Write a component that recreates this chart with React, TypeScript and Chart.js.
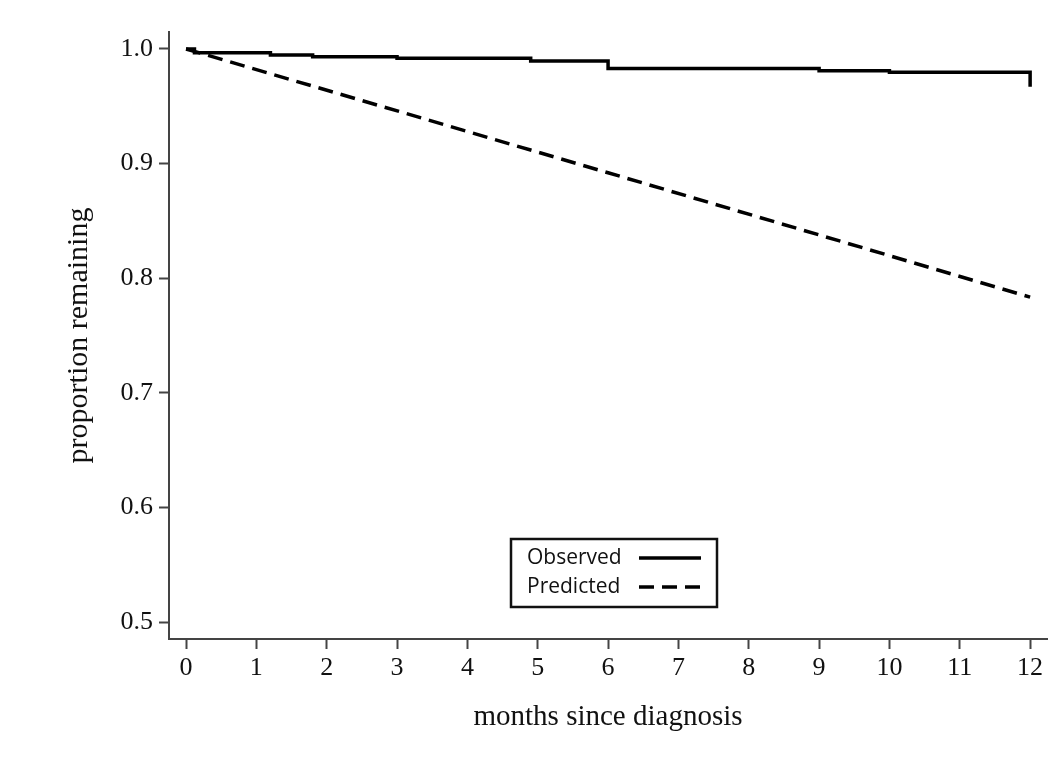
import React, { useEffect, useRef } from "react";
import { Chart, registerables } from "chart.js";

Chart.register(...registerables);

// ---- data ----
const observedMonths = [0, 0.12, 1.2, 1.8, 3.0, 4.9, 6.0, 9.0, 10.0, 12.0];
const observedValues = [1.0, 0.9968, 0.9948, 0.9933, 0.992, 0.9895, 0.983, 0.981, 0.9797, 0.967];
const predictedMonths = [0, 6, 12];
const predictedValues = [1.0, 0.892, 0.7835];
const xTicks = [0, 1, 2, 3, 4, 5, 6, 7, 8, 9, 10, 11, 12];
const yTicks = [0.5, 0.6, 0.7, 0.8, 0.9, 1.0];
const seriesLabels = ["Observed", "Predicted"];
const xTitle = "months since diagnosis";
const yTitle = "proportion remaining";

const SERIF = "'Liberation Serif', 'Times New Roman', serif";
const AXIS = "#444";
const TEXT = "#111";

const boxLegend = {
  id: "boxLegend",
  afterDraw(chart: any, _args: any, opts: any) {
    const ctx = chart.ctx as CanvasRenderingContext2D;
    ctx.save();
    ctx.fillStyle = "#ffffff";
    ctx.fillRect(opts.left, opts.top, opts.width, opts.height);
    ctx.strokeStyle = "#111";
    ctx.lineWidth = 2.5;
    ctx.strokeRect(opts.left, opts.top, opts.width, opts.height);
    chart.data.datasets.forEach((ds: any, i: number) => {
      const y = opts.rows[i];
      ctx.fillStyle = "#111";
      ctx.font = opts.font;
      ctx.textBaseline = "middle";
      ctx.textAlign = "left";
      ctx.fillText(ds.label, opts.textX, y);
      ctx.strokeStyle = ds.borderColor;
      ctx.lineWidth = ds.borderWidth;
      ctx.setLineDash(ds.borderDash || []);
      ctx.beginPath();
      ctx.moveTo(opts.lineX1, y);
      ctx.lineTo(opts.lineX2, y);
      ctx.stroke();
    });
    ctx.restore();
  },
};

const whiteBg = {
  id: "whiteBg",
  beforeDraw(chart: any) {
    const ctx = chart.ctx;
    ctx.save();
    ctx.fillStyle = "#ffffff";
    ctx.fillRect(0, 0, chart.width, chart.height);
    ctx.restore();
  },
};

export default function App() {
  const ref = useRef<HTMLCanvasElement>(null);

  useEffect(() => {
    if (!ref.current) return;
    const chart = new Chart(ref.current, {
      type: "line",
      data: {
        datasets: [
          {
            label: seriesLabels[0],
            data: observedMonths.map((m, i) => ({ x: m, y: observedValues[i] })),
            borderColor: "#000",
            borderWidth: 3.5,
            stepped: true,
            pointRadius: 0,
            fill: false,
          },
          {
            label: seriesLabels[1],
            data: predictedMonths.map((m, i) => ({ x: m, y: predictedValues[i] })),
            borderColor: "#000",
            borderWidth: 3.5,
            borderDash: [15, 8],
            pointRadius: 0,
            fill: false,
            tension: 0,
          },
        ],
      },
      options: {
        animation: false,
        responsive: false,
        devicePixelRatio: 1,
        layout: { padding: { left: 0, top: 32, right: 14, bottom: 0 } },
        plugins: {
          legend: { display: false },
          tooltip: { enabled: false },
          boxLegend: {
            left: 511,
            top: 539,
            width: 206,
            height: 68,
            font: "21px 'Open Sans', sans-serif",
            textX: 527,
            lineX1: 639,
            lineX2: 701,
            rows: [558, 587],
          },
        } as any,
        scales: {
          x: {
            type: "linear",
            min: -0.242,
            max: 12.24,
            afterFit: (s: any) => {
              s.height = 137;
            },
            afterBuildTicks: (s: any) => {
              s.ticks = xTicks.map((v) => ({ value: v }));
            },
            ticks: {
              font: { family: SERIF, size: 26 },
              color: TEXT,
              padding: 4,
              maxRotation: 0,
              autoSkip: false,
              callback: (v: any) => String(v),
            },
            grid: {
              drawOnChartArea: false,
              drawTicks: true,
              tickLength: 10,
              tickWidth: 2,
              tickColor: AXIS,
            },
            border: { display: true, color: AXIS, width: 2 },
            title: {
              display: true,
              text: xTitle,
              font: { family: SERIF, size: 29 },
              color: TEXT,
              padding: { top: 0, bottom: 41 },
            },
          },
          y: {
            type: "linear",
            min: 0.4852,
            max: 1.0148,
            afterFit: (s: any) => {
              s.width = 169;
            },
            afterBuildTicks: (s: any) => {
              s.ticks = yTicks.map((v) => ({ value: v }));
            },
            ticks: {
              font: { family: SERIF, size: 26 },
              color: TEXT,
              padding: 6,
              autoSkip: false,
              callback: (v: any) => Number(v).toFixed(1),
            },
            grid: {
              drawOnChartArea: false,
              drawTicks: true,
              tickLength: 10,
              tickWidth: 2,
              tickColor: AXIS,
            },
            border: { display: true, color: AXIS, width: 2 },
            title: {
              display: true,
              text: yTitle,
              font: { family: SERIF, size: 30 },
              color: TEXT,
              padding: { top: 61, bottom: 0 },
            },
          },
        },
      } as any,
      plugins: [whiteBg, boxLegend],
    });
    return () => chart.destroy();
  }, []);

  return (
    <div style={{ position: "absolute", left: 0, top: 0, width: 1061, height: 776, background: "#fff" }}>
      <canvas ref={ref} width={1061} height={776} style={{ display: "block" }} />
    </div>
  );
}
